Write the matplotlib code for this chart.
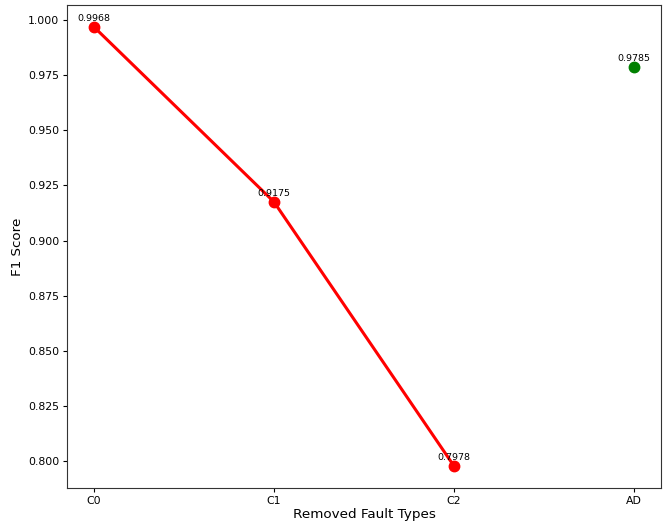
import matplotlib
matplotlib.use("Agg")
import matplotlib.pyplot as plt

categories = ["C0", "C1", "C2", "AD"]
removed_scores = [0.9968, 0.9175, 0.7978]
ad_score = 0.9785

fig, ax = plt.subplots(figsize=(6.67, 5.25), dpi=100)
fig.subplots_adjust(left=0.1004, right=0.991, top=0.9905, bottom=0.0705)

xs = list(range(len(removed_scores)))
ax.plot(xs, removed_scores, color="red", linewidth=2.2, marker="o", markersize=7.5)
ax.plot([3], [ad_score], color="green", marker="o", markersize=7.5, linestyle="none")

for x, v in zip(xs, removed_scores):
    ax.annotate(f"{v:.4f}", (x, v), textcoords="offset points", xytext=(0, 4.5),
                ha="center", fontsize=6.8)
ax.annotate(f"{ad_score:.4f}", (3, ad_score), textcoords="offset points", xytext=(0, 4.5),
            ha="center", fontsize=6.8)

ax.set_xticks(range(len(categories)))
ax.set_xticklabels(categories)
ax.tick_params(labelsize=7.8, length=3, pad=2.5)
ax.set_xlabel("Removed Fault Types", fontsize=9.7, labelpad=2)
ax.set_ylabel("F1 Score", fontsize=9.7, labelpad=3)
ax.yaxis.set_major_formatter(matplotlib.ticker.FormatStrFormatter("%.3f"))
for s in ax.spines.values():
    s.set_color("#333333")

fig.savefig("out.png", dpi=100)
